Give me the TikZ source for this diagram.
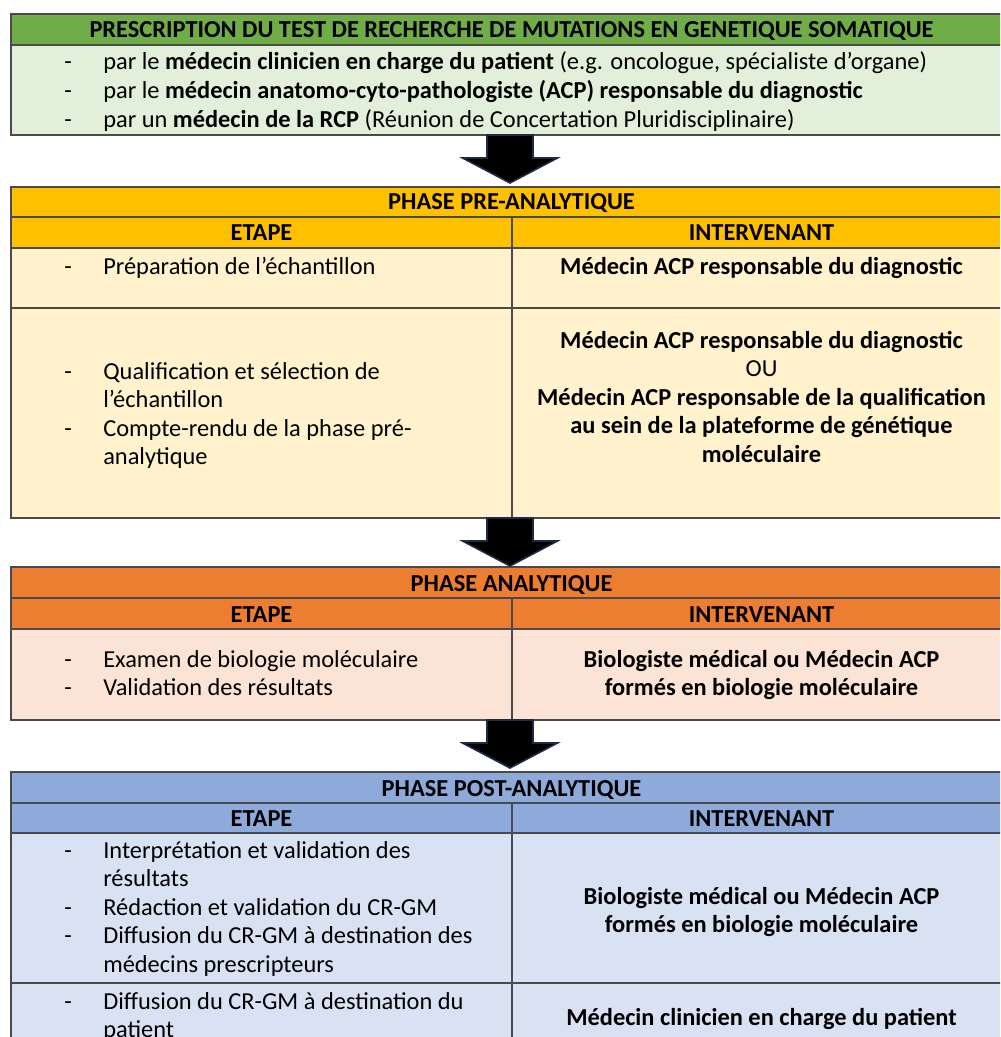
\documentclass[tikz,border=0pt]{standalone}
\usepackage{fontspec}
\setmainfont{Carlito}
\definecolor{ghdr}{HTML}{70AD47}
\definecolor{gbody}{HTML}{E2EFDA}
\definecolor{yhdr}{HTML}{FFC000}
\definecolor{ybody}{HTML}{FFF2CC}
\definecolor{ohdr}{HTML}{ED7D31}
\definecolor{obody}{HTML}{FBE4D5}
\definecolor{bhdr}{HTML}{8EAADB}
\definecolor{bbody}{HTML}{D9E2F3}
\definecolor{rule}{HTML}{4A4A4A}
\definecolor{navy}{HTML}{1F2A44}
\newcommand{\fs}{\fontsize{18.3}{22}\selectfont}
\begin{document}
\begin{tikzpicture}[x=0.75pt,y=-0.75pt,
  grid/.style={draw=rule, line width=1pt},
  arr/.style={fill=black, draw=navy, line width=1.2pt, line join=miter},
  lt/.style={anchor=base west, inner sep=0pt, font=\fs},
  dsh/.style={anchor=base, inner sep=0pt, font=\fs},
  ct/.style={anchor=base, inner sep=0pt, font=\fs\bfseries},
  cn/.style={anchor=base, inner sep=0pt, font=\fs},
  blockarrow/.pic={\draw[arr] (-23,0) -- (23,0) -- (23,23) -- (47.5,23) -- (0,48) -- (-47.5,23) -- (-23,23) -- cycle;}]
\useasboundingbox (0,0) rectangle (1000,1037);
\begin{scope}
\clip (0,0) rectangle (1000,1037);
% ---------- green box
\fill[ghdr] (11,14) rectangle (1011,45);
\fill[gbody] (11,45) rectangle (1011,135);
\draw[grid] (11,14) rectangle (1011,135) (11,45) -- (1011,45);
% ---------- yellow box
\fill[yhdr] (11,187) rectangle (1011,248);
\fill[ybody] (11,248) rectangle (1011,518);
\draw[grid] (11,187) rectangle (1011,518)
  (11,217) -- (1011,217) (11,248) -- (1011,248) (11,308) -- (1011,308)
  (512,217) -- (512,518);
% ---------- orange box
\fill[ohdr] (11,567) rectangle (1011,629);
\fill[obody] (11,629) rectangle (1011,720);
\draw[grid] (11,567) rectangle (1011,720)
  (11,598) -- (1011,598) (11,629) -- (1011,629) (512,598) -- (512,720);
% ---------- blue box
\fill[bhdr] (11,772) rectangle (1011,833);
\fill[bbody] (11,833) rectangle (1011,1060);
\draw[grid] (11,772) rectangle (1011,1060)
  (11,803) -- (1011,803) (11,833) -- (1011,833) (11,983) -- (1011,983)
  (512,803) -- (512,1060);
% ---------- arrows
\pic (a1) at (510,135) {blockarrow};
\pic (a2) at (510,518) {blockarrow};
\pic (a3) at (510,720) {blockarrow};
% ---------- green texts
\node[ct] (gh) at (511.5,38) {PRESCRIPTION DU TEST DE RECHERCHE DE MUTATIONS EN GENETIQUE SOMATIQUE};
\node[dsh] (gd1) at (68,70) {-};
\node[lt] (g1) at (103,70) {par le \textbf{médecin clinicien en charge du patient} (e.g. oncologue, spécialiste d’organe)};
\node[dsh] (gd2) at (68,99) {-};
\node[lt] (g2) at (103,99) {par le \textbf{médecin anatomo-cyto-pathologiste (ACP) responsable du diagnostic}};
\node[dsh] (gd3) at (68,128) {-};
\node[lt] (g3) at (103,128) {par un \textbf{médecin de la RCP} (Réunion de Concertation Pluridisciplinaire)};
% ---------- yellow texts
\node[ct] (yh) at (511.5,210) {PHASE PRE-ANALYTIQUE};
\node[ct] (ye) at (261.5,241) {ETAPE};
\node[ct] (yi) at (761.5,241) {INTERVENANT};
\node[dsh] (yd1) at (68,275) {-};
\node[lt] (y1) at (103,275) {Préparation de l’échantillon};
\node[ct] (yr1) at (761.5,275) {Médecin ACP responsable du diagnostic};
\node[dsh] (yd2) at (68,379) {-};
\node[lt] (y2a) at (103,379) {Qualification et sélection de};
\node[lt] (y2b) at (103,407.5) {l’échantillon};
\node[dsh] (yd3) at (68,436) {-};
\node[lt] (y3a) at (103,436) {Compte-rendu de la phase pré-};
\node[lt] (y3b) at (103,464.5) {analytique};
\node[ct] (yr2a) at (761.5,348) {Médecin ACP responsable du diagnostic};
\node[cn] (yr2b) at (761.5,376.5) {OU};
\node[ct] (yr2c) at (761.5,405) {Médecin ACP responsable de la qualification};
\node[ct] (yr2d) at (761.5,433.5) {au sein de la plateforme de génétique};
\node[ct] (yr2e) at (761.5,462) {moléculaire};
% ---------- orange texts
\node[ct] (oh) at (511.5,591) {PHASE ANALYTIQUE};
\node[ct] (oe) at (261.5,622) {ETAPE};
\node[ct] (oi) at (761.5,622) {INTERVENANT};
\node[dsh] (od1) at (68,667) {-};
\node[lt] (o1) at (103,667) {Examen de biologie moléculaire};
\node[dsh] (od2) at (68,695.5) {-};
\node[lt] (o2) at (103,695.5) {Validation des résultats};
\node[ct] (or1) at (761.5,667) {Biologiste médical ou Médecin ACP};
\node[ct] (or2) at (761.5,695.5) {formés en biologie moléculaire};
% ---------- blue texts
\node[ct] (bh) at (511.5,796) {PHASE POST-ANALYTIQUE};
\node[ct] (be) at (261.5,826.5) {ETAPE};
\node[ct] (bi) at (761.5,826.5) {INTERVENANT};
\node[dsh] (bd1) at (68,858) {-};
\node[lt] (b1a) at (103,858) {Interprétation et validation des};
\node[lt] (b1b) at (103,886.5) {résultats};
\node[dsh] (bd2) at (68,915) {-};
\node[lt] (b2) at (103,915) {Rédaction et validation du CR-GM};
\node[dsh] (bd3) at (68,943.5) {-};
\node[lt] (b3a) at (103,943.5) {Diffusion du CR-GM à destination des};
\node[lt] (b3b) at (103,972) {médecins prescripteurs};
\node[ct] (br1) at (761.5,904) {Biologiste médical ou Médecin ACP};
\node[ct] (br2) at (761.5,932.5) {formés en biologie moléculaire};
\node[dsh] (bd4) at (68,1009) {-};
\node[lt] (b4a) at (103,1009) {Diffusion du CR-GM à destination du};
\node[lt] (b4b) at (103,1037.5) {patient};
\node[ct] (br3) at (761.5,1025) {Médecin clinicien en charge du patient};
\end{scope}
\end{tikzpicture}
\end{document}
